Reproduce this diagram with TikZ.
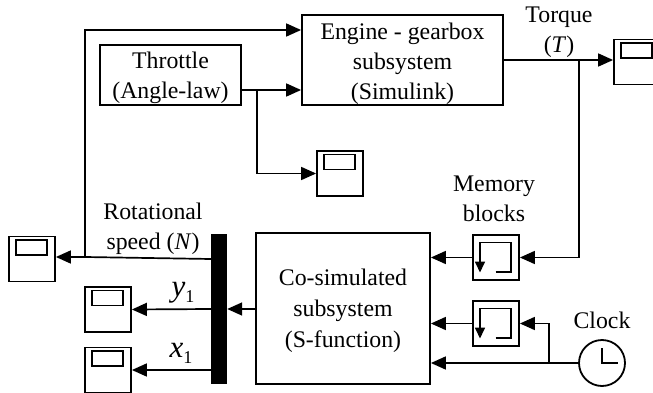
\documentclass[tikz,border=0pt]{standalone}
\usepackage{fontspec}
\setmainfont{Liberation Serif}
\usetikzlibrary{arrows.meta,calc}
\tikzset{
  x=1pt,y=-1pt,
  wire/.style={line width=1.7pt,line join=miter},
  sig/.style={wire,-{Triangle[length=15pt,width=13pt]}},
  blockbox/.style={draw,line width=1.8pt,inner sep=0pt},
  scopebox/.style={draw,line width=1.8pt,minimum width=46pt,minimum height=45pt,inner sep=0pt},
  scopescreen/.style={draw,line width=1.8pt,minimum width=31pt,minimum height=15pt,inner sep=0pt},
  membox/.style={draw,line width=1.8pt,minimum width=46pt,minimum height=45pt,inner sep=0pt},
  lbl/.style={inner sep=0pt,align=center,font=\fontsize{23.8}{30}\selectfont},
  sublbl/.style={inner sep=0pt,font=\fontsize{31}{32}\selectfont}
}
\newcommand{\scopeat}[3]{%
  \node[scopebox] (#1) at (#2,#3) {};
  \node[scopescreen] (#1s) at (#2-0.5,#3-11.5) {};
}
\newcommand{\memat}[3]{%
  \node[membox] (#1) at (#2,#3) {};
  \draw[line width=1.7pt,-{Triangle[length=11pt,width=10pt]}]
    ($(#1.center)+(-0.5,14.5)$) -- ($(#1.center)+(15,14.5)$) -- ($(#1.center)+(15,-15)$)
    -- ($(#1.center)+(-16,-15)$) -- ($(#1.center)+(-16,15)$);
}
\begin{document}
\begin{tikzpicture}
\useasboundingbox (0,0) rectangle (653,393);
\clip (0,0) rectangle (653,393);
% blocks
\node[blockbox,minimum width=201pt,minimum height=90pt] (engine) at (402.5,60) {};
\node[blockbox,minimum width=141pt,minimum height=60pt] (throttle) at (170.5,75) {};
\node[blockbox,minimum width=174pt,minimum height=151pt] (cosim) at (343,308.5) {};
\node[lbl] (lengine) at (402.5,64) {Engine - gearbox\\subsystem\\(Simulink)};
\node[lbl] (lthrottle) at (170.5,78) {Throttle\\(Angle-law)};
\node[lbl,font=\fontsize{23.8}{31}\selectfont] (lcosim) at (343,311) {Co-simulated\\subsystem\\(S-function)};
\node[fill=black,inner sep=0pt,minimum width=16pt,minimum height=150pt] (mux) at (219,309) {};
\scopeat{sctorque}{637}{62}
\scopeat{scthrottle}{340}{173.5}
\scopeat{scspeed}{32}{259}
\scopeat{scy}{108}{309.5}
\scopeat{scx}{108}{370}
\memat{memA}{496}{257.5}
\memat{memB}{496}{323.5}
\node[draw,circle,line width=1.8pt,minimum size=46pt,inner sep=0pt] (clock) at (602,363) {};
\draw[line width=1.7pt] ($(clock.center)+(0,-15)$) -- (clock.center) -- ($(clock.center)+(16,0)$);
% junctions
\coordinate (jtorque) at (579,60);
\coordinate (jthr) at (257,90);
\coordinate (jspeed) at (85,257);
\coordinate (jclock) at (549,363);
\coordinate (muxspeed) at (211,259);
% connectors
\draw[sig] (engine.east |- jtorque) -- (sctorque.west |- jtorque);
\draw[sig] (jtorque) -- (jtorque |- memA) -- (memA.east);
\draw[sig] (memA.west) -- (cosim.east |- memA);
\draw[sig] (throttle.east |- jthr) -- (engine.west |- jthr);
\draw[sig] (jthr) -- (jthr |- scthrottle) -- (scthrottle.west);
\draw[sig] (muxspeed) -- (jspeed) -- (scspeed.east |- jspeed);
\draw[sig] (jspeed) -- (85,30) -- (engine.west |- 0,30);
\draw[sig] (cosim.west |- mux) -- (mux.east);
\draw[sig] (mux.west) -- (scy.east);
\draw[sig] (mux.west |- scx) -- (scx.east);
\draw[sig] (memB.west) -- (cosim.east |- memB);
\draw[sig] (clock.west) -- (cosim.east |- clock);
\draw[sig] (jclock) -- (jclock |- memB) -- (memB.east);
% labels
\node[lbl] (ltorque) at (559,32) {Torque\\(\textit{T})};
\node[lbl] (lmemory) at (494,199) {Memory\\blocks};
\node[lbl] (lspeed) at (153,229) {Rotational\\speed (\textit{N})};
\node[lbl] (lclock) at (602,320) {Clock};
\node[sublbl] (ly) at (183,293) {\textit{y}\raisebox{-0.2em}{\fontsize{18}{18}\selectfont 1}};
\node[sublbl] (lx) at (181,353) {\textit{x}\raisebox{-0.2em}{\fontsize{18}{18}\selectfont 1}};
\end{tikzpicture}
\end{document}
